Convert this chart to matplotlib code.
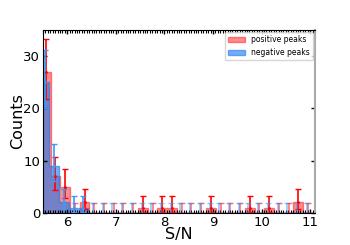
import matplotlib
matplotlib.use("Agg")
import matplotlib.pyplot as plt
from matplotlib.ticker import MultipleLocator
import numpy as np

# counts per S/N bin (bin width 0.2)
pos_start = 5.455
neg_start = 5.43
bin_w = 0.2
pos_counts = [27, 7, 5, 0, 2, 0, 0, 0, 0, 0, 1, 0, 1, 1, 0, 0, 0, 1, 0, 0, 0, 1, 0, 1, 0, 0, 2, 0]
neg_counts = [25, 9, 2, 1, 1, 0, 0, 0, 0, 0, 0, 0, 0, 0, 0, 0, 0, 0, 0, 0, 0, 0, 0, 0, 0, 0, 0, 0]


def gehrels(n):
    # Poisson confidence limits (Gehrels 1986)
    n = np.asarray(n, dtype=float)
    up = np.sqrt(n + 0.75) + 1
    m = np.maximum(n, 1)
    lo = np.where(n > 0, n * (1 - (1 - 1 / (9 * m) - 1 / (3 * np.sqrt(m))) ** 3), 0)
    return lo, up


fig = plt.figure(figsize=(3.5, 2.45), dpi=100)
ax = fig.add_axes([0.123, 0.131, 0.777, 0.747])

pe = pos_start + bin_w * np.arange(len(pos_counts) + 1)
ne = neg_start + bin_w * np.arange(len(neg_counts) + 1)
pc = 0.5 * (pe[1:] + pe[:-1])
nc = 0.5 * (ne[1:] + ne[:-1])

ax.hist(pc, bins=pe, weights=pos_counts, histtype='stepfilled', color='red',
        alpha=0.45, ec='red', lw=1.0, label='positive peaks')
ax.hist(nc, bins=ne, weights=neg_counts, histtype='stepfilled', color='#1a78f0',
        alpha=0.6, ec='#1a78f0', lw=1.0, label='negative peaks')

for cen, cnt, col in [(pc, pos_counts, 'red'), (nc, neg_counts, '#3b99ff')]:
    cnt = np.array(cnt)
    lo, up = gehrels(cnt)
    nz = cnt > 0
    ax.errorbar(cen[~nz], cnt[~nz], yerr=[lo[~nz], up[~nz]], fmt='none',
                ecolor=col, alpha=0.55, capsize=2.5, lw=1.2)
    ax.errorbar(cen[nz], cnt[nz], yerr=[lo[nz], up[nz]], fmt='.', ms=2,
                color=col, ecolor=col, capsize=2.5, lw=1.2)

ax.set_xlim(5.5, 11.1)
ax.set_ylim(0, 35)
ax.set_xticks([6, 7, 8, 9, 10, 11])
ax.set_yticks([0, 10, 20, 30])
ax.xaxis.set_minor_locator(MultipleLocator(0.05))
ax.tick_params(axis='both', which='both', direction='in', top=True, right=True,
               labelsize=9.5, pad=2)
ax.tick_params(which='major', length=3, width=1)
ax.tick_params(which='minor', length=2, width=0.8, color='black')
ax.spines['right'].set_color('#aaaaaa')
ax.spines['right'].set_linewidth(1.5)

ax.set_xlabel('S/N', fontsize=11.5, labelpad=-1)
ax.set_ylabel('Counts', fontsize=11.5, labelpad=-1)
ax.legend(loc='upper right', fontsize=5.5, handlelength=2.2, borderaxespad=0.3)

fig.savefig('out.png', dpi=100)
